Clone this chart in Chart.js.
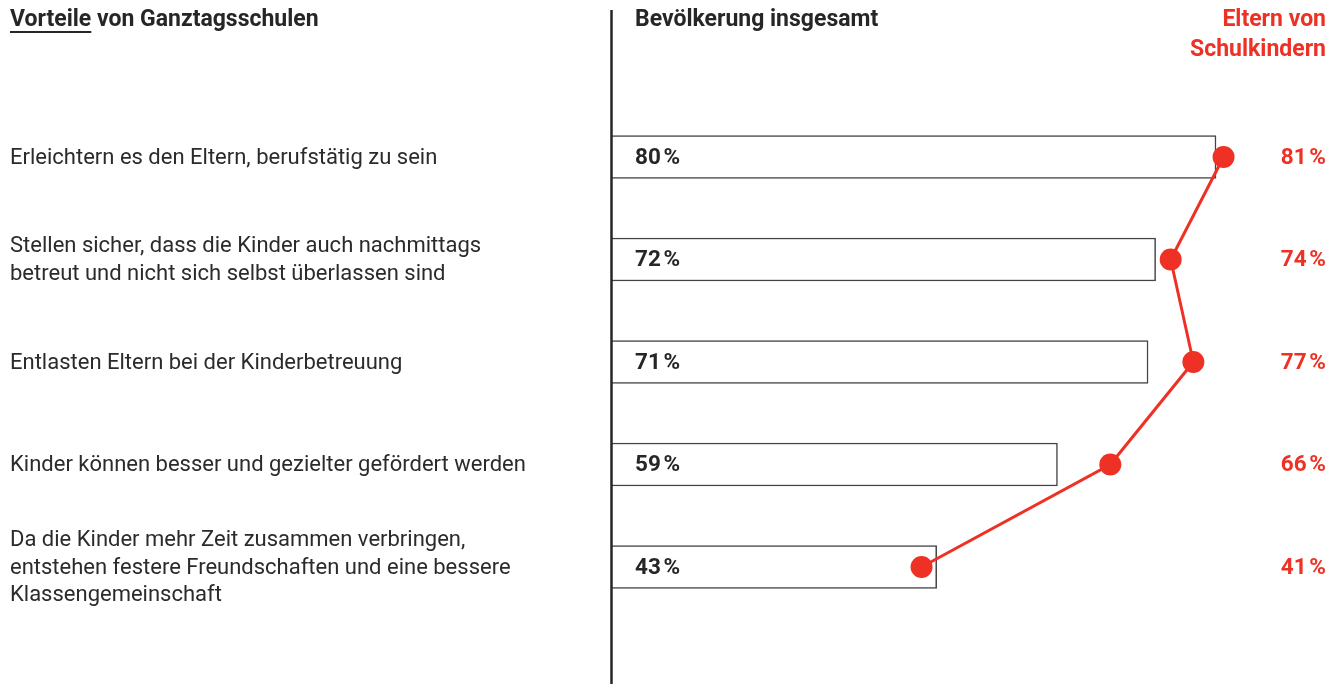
<!DOCTYPE html>
<html>
<head>
<meta charset="utf-8">
<script src="https://cdn.jsdelivr.net/npm/chart.js@4"></script>
<style>
  html, body { margin: 0; padding: 0; background: #fff; }
  #wrap { width: 1344px; height: 684px; position: relative; }
</style>
</head>
<body>
<div id="wrap"><canvas id="chart"></canvas></div>
<script>
// Daten
const categories = [
    ['Erleichtern es den Eltern, berufstätig zu sein'],
    ['Stellen sicher, dass die Kinder auch nachmittags', 'betreut und nicht sich selbst überlassen sind'],
    ['Entlasten Eltern bei der Kinderbetreuung'],
    ['Kinder können besser und gezielter gefördert werden'],
    ['Da die Kinder mehr Zeit zusammen verbringen,', 'entstehen festere Freundschaften und eine bessere', 'Klassengemeinschaft']
];
const population = [80, 72, 71, 59, 43];
const parents = [81, 74, 77, 66, 41];

const RED = '#ee3124';
const DARK = '#262626';
const FONT = 'Roboto, "Noto Sans", sans-serif';

function pct(v) { return v + '\u202F%'; }

// Texte und Trennlinie zeichnen
const textPlugin = {
    id: 'texts',
    afterDatasetsDraw(chart) {
        const ctx = chart.ctx;
        const area = chart.chartArea;
        const y = chart.scales.y;
        ctx.save();

        // senkrechte Linie
        ctx.strokeStyle = DARK;
        ctx.lineWidth = 2.5;
        ctx.beginPath();
        ctx.moveTo(area.left - 0.5, 10);
        ctx.lineTo(area.left - 0.5, 684);
        ctx.stroke();

        ctx.textBaseline = 'middle';

        // Überschriften
        ctx.font = 'bold 23px ' + FONT;
        ctx.fillStyle = DARK;
        ctx.textAlign = 'left';
        ctx.fillText('Vorteile', 10, 20);
        const w = ctx.measureText('Vorteile').width;
        ctx.fillText(' von Ganztagsschulen', 10 + w, 20);
        ctx.fillRect(10, 31, w, 2);
        ctx.fillText('Bevölkerung insgesamt', area.left + 23, 20);

        ctx.fillStyle = RED;
        ctx.textAlign = 'right';
        ctx.fillText('Eltern von', 1326, 20);
        ctx.fillText('Schulkindern', 1326, 50);

        // Zeilen
        categories.forEach((lines, i) => {
            const cy = y.getPixelForValue(i);
            ctx.font = '22px ' + FONT;
            ctx.fillStyle = '#2b2b2b';
            ctx.textAlign = 'left';
            const lh = 27.5;
            const start = cy - (lines.length - 1) * lh / 2;
            lines.forEach((l, j) => ctx.fillText(l, 10, start + j * lh + 1));

            ctx.font = 'bold 22.5px ' + FONT;
            ctx.fillStyle = DARK;
            ctx.fillText(pct(population[i]), area.left + 23, cy + 1);

            ctx.fillStyle = RED;
            ctx.textAlign = 'right';
            ctx.fillText(pct(parents[i]), 1326, cy + 1);
        });
        ctx.restore();
    }
};

new Chart(document.getElementById('chart'), {
    data: {
        labels: categories,
        datasets: [
            {
                type: 'bar',
                data: population,
                backgroundColor: '#fff',
                borderColor: '#444',
                borderWidth: 1.5,
                barThickness: 43,
                order: 2
            },
            {
                type: 'line',
                data: parents,
                borderColor: RED,
                borderWidth: 3,
                pointRadius: 11,
                pointBackgroundColor: RED,
                pointBorderColor: RED,
                pointBorderWidth: 0,
                tension: 0,
                order: 1
            }
        ]
    },
    options: {
        indexAxis: 'y',
        responsive: true,
        maintainAspectRatio: false,
        animation: false,
        layout: { padding: { left: 612, right: 52.5, top: 105.75, bottom: 65.75 } },
        plugins: { legend: { display: false }, tooltip: { enabled: false } },
        scales: {
            x: { display: false, min: 0, max: 90 },
            y: { display: false, offset: true, grid: { display: false } }
        }
    },
    plugins: [textPlugin]
});
</script>
</body>
</html>
